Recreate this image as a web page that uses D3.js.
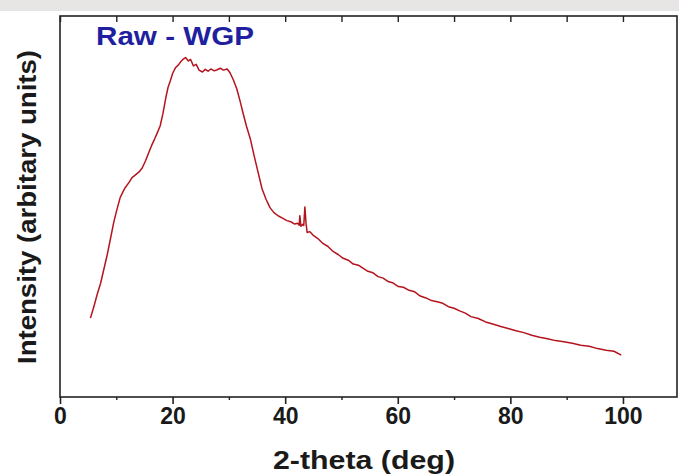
<!DOCTYPE html>
<html>
<head>
<meta charset="utf-8">
<script src="https://cdn.jsdelivr.net/npm/d3@7"></script>
<style>
  body { margin: 0; background: #fff; }
  svg { display: block; }
</style>
</head>
<body>
<div id="chart"></div>
<script>
// 2-theta positions (deg)
var theta = [5.4, 6, 6.6, 7.2, 7.8, 8.4, 9, 9.5, 10, 10.7, 11.2, 11.6, 12.2, 12.8, 13.4, 14, 14.6, 15.2, 15.7, 16.3,
  16.8, 17.3, 17.8, 18.3, 18.8, 19.2, 19.6, 20, 20.5, 21, 21.4, 21.9, 22.3, 22.8, 23.2, 23.7, 24.2, 24.7, 25.3, 25.8,
  26.3, 26.8, 27.4, 27.9, 28.5, 29, 29.7, 30.2, 30.8, 31.4, 32, 32.5, 33.1, 33.8, 34.5, 35.2, 35.9, 36.6, 37.3, 38,
  38.8, 39.6, 40.3, 41, 41.7, 42.2, 42.5, 42.6, 42.8, 43.1, 43.3, 43.5, 43.7, 43.9, 44.4, 45, 45.8, 46.7, 47.6, 48.5,
  49.4, 50.3, 51.2, 52.1, 53, 53.8, 54.7, 55.6, 56.5, 57.4, 58.3, 59.2, 60.1, 61, 62, 63, 64, 65, 66, 67,
  68, 69, 70, 71, 72, 73, 74.3, 75.6, 77, 78.3, 79.6, 81, 82.4, 83.8, 85.2, 86.6, 88, 89.5, 91, 92.5,
  94, 95.5, 97, 98.4, 99.7];

// intensity (arbitrary units, 0-100 of the frame height)
var intensity = [20.7, 23.6, 26.9, 29.8, 33.6, 37.4, 41.8, 45.5, 48.6, 52.4, 53.9, 55.0, 56.2, 57.6, 58.3, 59.0, 60.1, 62.0, 63.9, 66.1,
  67.7, 69.4, 71.2, 74.5, 78.6, 81.3, 83.0, 84.9, 86.4, 87.1, 87.9, 88.7, 89.1, 88.2, 88.6, 86.9, 87.3, 85.8, 85.3, 86.0,
  85.5, 86.1, 85.6, 85.9, 86.3, 85.8, 86.1, 85.1, 83.2, 80.9, 77.6, 74.6, 71.2, 67.8, 63.2, 58.9, 54.6, 51.9, 49.7, 48.4,
  47.5, 46.9, 46.3, 46.0, 45.4, 45.6, 45.1, 47.6, 44.8, 45.3, 45.0, 49.9, 45.6, 43.2, 43.4, 42.4, 41.6, 40.3, 39.5, 38.2,
  37.4, 36.4, 35.9, 34.9, 34.6, 33.8, 33.0, 32.6, 31.6, 31.2, 30.3, 29.9, 29.0, 28.8, 28.0, 27.6, 26.5, 26.0, 25.3, 25.0,
  24.6, 23.7, 23.3, 22.6, 22.0, 21.1, 20.6, 19.7, 19.1, 18.5, 18.0, 17.4, 16.9, 16.2, 15.7, 15.3, 14.8, 14.5, 14.1, 13.6,
  13.3, 12.7, 12.3, 12.0, 11.0];

var xTicks = [0, 20, 40, 60, 80, 100];
var xMinorTicks = [10, 30, 50, 70, 90];

var svgWidth = 679;
var svgHeight = 475;

var margin = { top: 16, right: 2, bottom: 78, left: 60 };
var chartWidth = svgWidth - margin.left - margin.right;
var chartHeight = svgHeight - margin.top - margin.bottom;

var svg = d3.select("#chart")
  .append("svg")
  .attr("width", svgWidth)
  .attr("height", svgHeight);

// grey strip along the top edge
svg.append("rect")
  .attr("x", 0).attr("y", 0)
  .attr("width", svgWidth).attr("height", 11)
  .attr("fill", "#e8e6e4");

var chartGroup = svg.append("g")
  .attr("transform", `translate(${margin.left}, ${margin.top})`);

var xScale = d3.scaleLinear().domain([0, 109.6]).range([0, chartWidth]);
var yScale = d3.scaleLinear().domain([0, 100]).range([chartHeight, 0]);

var points = theta.map(function(t, i) { return [t, intensity[i]]; });

// frame
chartGroup.append("rect")
  .attr("width", chartWidth)
  .attr("height", chartHeight)
  .attr("fill", "none")
  .attr("stroke", "#222")
  .attr("stroke-width", 1.6);

// bottom axis, ticks outward
var xAxis = d3.axisBottom(xScale).tickValues(xTicks).tickSize(7).tickPadding(4).tickFormat(d3.format("d"));
var gx = chartGroup.append("g")
  .attr("transform", `translate(0, ${chartHeight})`)
  .call(xAxis);
gx.select(".domain").remove();
gx.selectAll("line").attr("stroke", "#222").attr("stroke-width", 1.6);
gx.selectAll("text")
  .attr("fill", "#1a1a1a")
  .style("font-family", "'Liberation Sans', Arial, sans-serif")
  .style("font-weight", "bold")
  .style("font-size", "23px");

var gxMinor = chartGroup.append("g")
  .attr("transform", `translate(0, ${chartHeight})`)
  .call(d3.axisBottom(xScale).tickValues(xMinorTicks).tickSize(3).tickFormat(""));
gxMinor.select(".domain").remove();
gxMinor.selectAll("line").attr("stroke", "#222").attr("stroke-width", 1.4);

// top axis, ticks inward
var gTop = chartGroup.append("g")
  .call(d3.axisTop(xScale).tickValues(xTicks.concat(xMinorTicks)).tickSize(-6).tickFormat(""));
gTop.select(".domain").remove();
gTop.selectAll("line").attr("stroke", "#222").attr("stroke-width", 1.4);

// trace
var line = d3.line()
  .x(function(d) { return xScale(d[0]); })
  .y(function(d) { return yScale(d[1]); });

chartGroup.append("path")
  .datum(points)
  .attr("d", line)
  .attr("fill", "none")
  .attr("stroke", "#b5141f")
  .attr("stroke-width", 1.5)
  .attr("stroke-linejoin", "round");

// sample label
chartGroup.append("text")
  .attr("x", 36)
  .attr("y", 29)
  .attr("fill", "#1f1fa0")
  .attr("textLength", 158)
  .attr("lengthAdjust", "spacingAndGlyphs")
  .style("font-family", "'Liberation Sans', Arial, sans-serif")
  .style("font-weight", "bold")
  .style("font-size", "26px")
  .text("Raw - WGP");

// x-axis label
svg.append("text")
  .attr("x", 364)
  .attr("y", 469)
  .attr("text-anchor", "middle")
  .attr("fill", "#1a1a1a")
  .attr("textLength", 182)
  .attr("lengthAdjust", "spacingAndGlyphs")
  .style("font-family", "'Liberation Sans', Arial, sans-serif")
  .style("font-weight", "bold")
  .style("font-size", "26px")
  .text("2-theta (deg)");

// y-axis label
svg.append("text")
  .attr("transform", "translate(36, 207) rotate(-90)")
  .attr("text-anchor", "middle")
  .attr("fill", "#1a1a1a")
  .attr("textLength", 314)
  .attr("lengthAdjust", "spacingAndGlyphs")
  .style("font-family", "'Liberation Sans', Arial, sans-serif")
  .style("font-weight", "bold")
  .style("font-size", "26px")
  .text("Intensity (arbitary units)");
</script>
</body>
</html>
